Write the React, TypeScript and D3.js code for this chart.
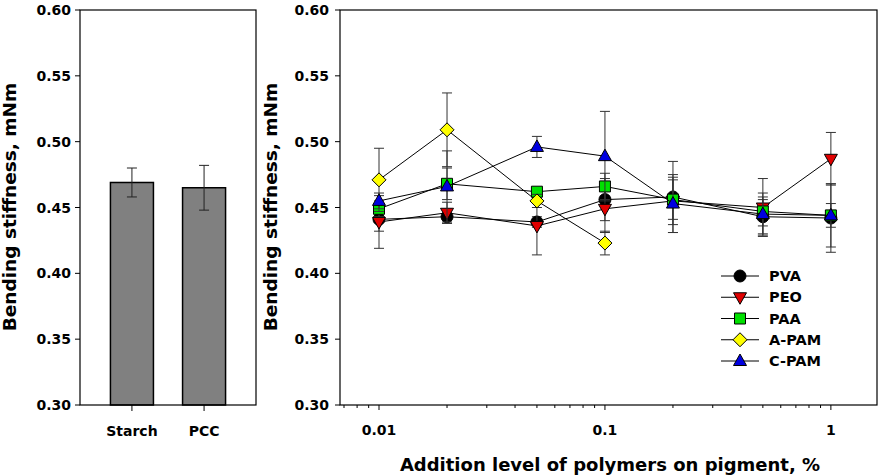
import React from 'react';
import * as d3 from 'd3';

// bar panel
const categories = ['Starch', 'PCC'];
const barMean = [0.469, 0.465];
const barErr = [0.011, 0.017];

// line panel
const levels = [0.01, 0.02, 0.05, 0.1, 0.2, 0.5, 1];
const xTickLabels = ['0.01', '0.1', '1'];
const yTicks = [0.3, 0.35, 0.4, 0.45, 0.5, 0.55, 0.6];

const pvaMean = [0.441, 0.443, 0.439, 0.456, 0.458, 0.443, 0.442];
const pvaErr = [0.009, 0.005, 0.004, 0.016, 0.027, 0.013, 0.026];
const peoMean = [0.439, 0.446, 0.436, 0.449, 0.455, 0.45, 0.487];
const peoErr = [0.02, 0.008, 0.022, 0.018, 0.018, 0.022, 0.02];
const paaMean = [0.449, 0.468, 0.462, 0.466, 0.456, 0.447, 0.444];
const paaErr = [0.006, 0.012, 0.003, 0.01, 0.015, 0.011, 0.009];
const apamMean = [0.471, 0.509, 0.455, 0.423];
const apamErr = [0.024, 0.028, 0.005, 0.009];
const cpamMean = [0.455, 0.466, 0.496, 0.489, 0.453, 0.445, 0.444];
const cpamErr = [0.006, 0.027, 0.008, 0.034, 0.022, 0.016, 0.024];

type Shape = 'circle' | 'down' | 'square' | 'diamond' | 'up';

const series: { name: string; mean: number[]; err: number[]; color: string; shape: Shape }[] = [
  { name: 'PVA', mean: pvaMean, err: pvaErr, color: '#000000', shape: 'circle' },
  { name: 'PEO', mean: peoMean, err: peoErr, color: '#e00000', shape: 'down' },
  { name: 'PAA', mean: paaMean, err: paaErr, color: '#00e000', shape: 'square' },
  { name: 'A-PAM', mean: apamMean, err: apamErr, color: '#ffff00', shape: 'diamond' },
  { name: 'C-PAM', mean: cpamMean, err: cpamErr, color: '#0000e0', shape: 'up' },
];

const FONT = '"DejaVu Sans", Arial, sans-serif';

const top = 10;
const bottom = 405;
const y = d3.scaleLinear().domain([0.3, 0.6]).range([bottom, top]);

const leftX0 = 80;
const leftX1 = 256;
const xBar = d3.scalePoint<string>().domain(categories).range([leftX0, leftX1]).padding(0.72);
const barWidth = 43;

const rightX0 = 340;
const rightX1 = 877;
const x = d3.scaleLog().domain([0.00672, 1.6]).range([rightX0, rightX1]);

function markerPath(shape: Shape) {
  switch (shape) {
    case 'circle': return 'M6,0A6,6 0 1,1 -6,0A6,6 0 1,1 6,0Z';
    case 'square': return 'M-5.5,-5.5H5.5V5.5H-5.5Z';
    case 'diamond': return 'M0,-7L7,0L0,7L-7,0Z';
    case 'up': return 'M0,-7L6.5,4.5L-6.5,4.5Z';
    case 'down': return 'M0,7L6.5,-4.5L-6.5,-4.5Z';
  }
}

const Marker = ({ cx, cy, shape, color }: { cx: number; cy: number; shape: Shape; color: string }) => (
  <path d={markerPath(shape)} transform={`translate(${cx},${cy})`} fill={color} stroke="#000" strokeWidth={1} />
);

export default function App() {
  const line = d3.line<number>()
    .x((_, i) => x(levels[i]))
    .y(d => y(d));

  const xTicks = x.ticks();
  const legendY = d3.scaleLinear().domain([0, 4]).range([276, 361]);

  return (
    <svg width={885} height={475} style={{ position: 'absolute', left: 0, top: 0, background: '#fff' }}
      fontFamily={FONT} fontWeight="bold">
      {/* ---- left panel ---- */}
      {categories.map((c, i) => (
        <g key={c}>
          <rect x={xBar(c)! - barWidth / 2} y={y(barMean[i])} width={barWidth} height={bottom - y(barMean[i])}
            fill="#808080" stroke="#000" strokeWidth={1.5} />
          <line x1={xBar(c)!} x2={xBar(c)!} y1={y(barMean[i] + barErr[i])} y2={y(barMean[i] - barErr[i])} stroke="#222" />
          <line x1={xBar(c)! - 5} x2={xBar(c)! + 5} y1={y(barMean[i] + barErr[i])} y2={y(barMean[i] + barErr[i])} stroke="#222" />
          <line x1={xBar(c)! - 5} x2={xBar(c)! + 5} y1={y(barMean[i] - barErr[i])} y2={y(barMean[i] - barErr[i])} stroke="#222" />
          <line x1={xBar(c)!} x2={xBar(c)!} y1={bottom} y2={bottom + 6} stroke="#000" />
          <text x={xBar(c)!} y={436} fontSize={14} textAnchor="middle">{c}</text>
        </g>
      ))}
      <rect x={leftX0} y={top} width={leftX1 - leftX0} height={bottom - top} fill="none" stroke="#000" strokeWidth={1.2} />
      {yTicks.map(t => (
        <g key={'l' + t}>
          <line x1={leftX0 - 5} x2={leftX0} y1={y(t)} y2={y(t)} stroke="#000" />
          <text x={leftX0 - 9} y={y(t) + 5} fontSize={14} textAnchor="end">{t.toFixed(2)}</text>
        </g>
      ))}
      <text transform={`translate(16,207) rotate(-90)`} fontSize={18.5} textAnchor="middle">Bending stiffness, mNm</text>

      {/* ---- right panel ---- */}
      {series.map(s => (
        <g key={s.name}>
          {s.mean.map((m, i) => (
            <g key={i} stroke="#333">
              <line x1={x(levels[i])} x2={x(levels[i])} y1={y(m + s.err[i])} y2={y(m - s.err[i])} />
              <line x1={x(levels[i]) - 5} x2={x(levels[i]) + 5} y1={y(m + s.err[i])} y2={y(m + s.err[i])} />
              <line x1={x(levels[i]) - 5} x2={x(levels[i]) + 5} y1={y(m - s.err[i])} y2={y(m - s.err[i])} />
            </g>
          ))}
          <path d={line(s.mean) || ''} fill="none" stroke="#000" strokeWidth={1} />
          {s.mean.map((m, i) => (
            <Marker key={i} cx={x(levels[i])} cy={y(m)} shape={s.shape} color={s.color} />
          ))}
        </g>
      ))}
      <rect x={rightX0} y={top} width={rightX1 - rightX0} height={bottom - top} fill="none" stroke="#000" strokeWidth={1.2} />
      {yTicks.map(t => (
        <g key={'r' + t}>
          <line x1={rightX0 - 5} x2={rightX0} y1={y(t)} y2={y(t)} stroke="#000" />
          <text x={rightX0 - 11} y={y(t) + 5} fontSize={14} textAnchor="end">{t.toFixed(2)}</text>
        </g>
      ))}
      {xTicks.map(t => {
        const major = Math.abs(Math.log10(t) - Math.round(Math.log10(t))) < 1e-9;
        return <line key={'x' + t} x1={x(t)} x2={x(t)} y1={bottom} y2={bottom + (major ? 5 : 3)} stroke="#000" />;
      })}
      {xTickLabels.map(l => (
        <text key={l} x={x(+l)} y={435} fontSize={14} textAnchor="middle">{l}</text>
      ))}
      <text transform={`translate(277,207) rotate(-90)`} fontSize={18.5} textAnchor="middle">Bending stiffness, mNm</text>
      <text x={610} y={471} fontSize={18} textAnchor="middle">Addition level of polymers on pigment, %</text>

      {/* legend */}
      {series.map((s, i) => (
        <g key={'lg' + s.name}>
          <line x1={721} x2={759} y1={legendY(i)} y2={legendY(i)} stroke="#000" />
          <Marker cx={740} cy={legendY(i)} shape={s.shape} color={s.color} />
          <text x={769} y={legendY(i) + 5} fontSize={14.5}>{s.name}</text>
        </g>
      ))}
    </svg>
  );
}
